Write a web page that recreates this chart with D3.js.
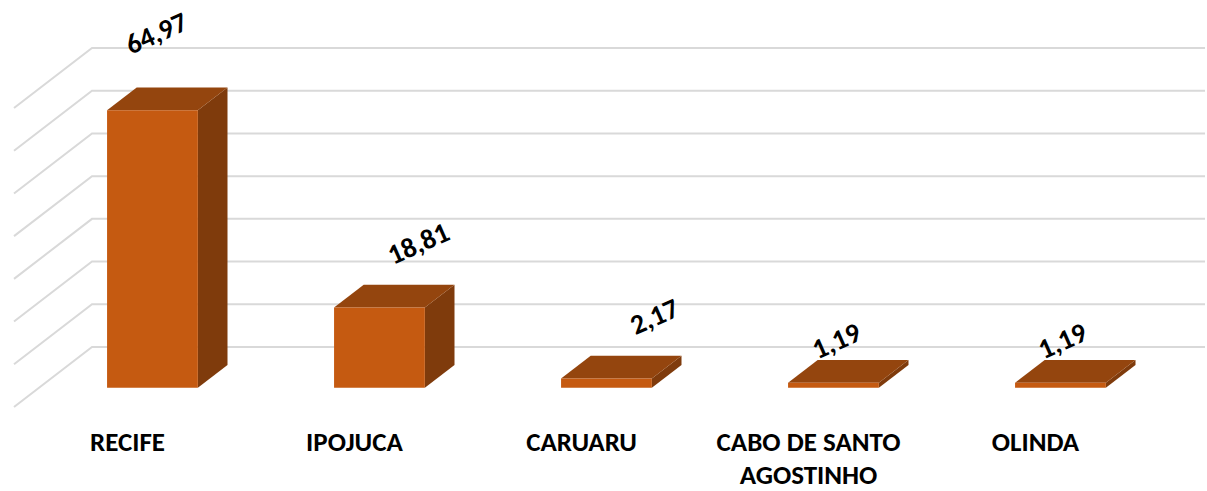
<!DOCTYPE html>
<html>
<head>
<meta charset="utf-8">
<script src="https://cdn.jsdelivr.net/npm/d3@7"></script>
<style>
  html, body { margin: 0; padding: 0; background: #fff; }
  svg { display: block; }
</style>
</head>
<body>
<script>
const width = 1207, height = 491;

// data
const cities = ["RECIFE", "IPOJUCA", "CARUARU", "CABO DE SANTO AGOSTINHO", "OLINDA"];
const cityLines = [["RECIFE"], ["IPOJUCA"], ["CARUARU"], ["CABO DE SANTO", "AGOSTINHO"], ["OLINDA"]];
const values = [64.97, 18.81, 2.17, 1.19, 1.19];
const valueLabels = ["64,97", "18,81", "2,17", "1,19", "1,19"];
const ticks = [0, 10, 20, 30, 40, 50, 60, 70];

// layout bits (Excel puts these labels in slightly odd spots)
const labelShift = [[-11, -66], [24, -53], [33, -51], [-12, -31], [-13, -31]];

const depthX = -78, depthY = 60;           // full floor depth offset
const zBack = 0.3, zFront = 0.68;          // bar depth within the floor
const proj = (x, y, z) => [x + depthX * z, y + depthY * z];

const x = d3.scaleBand()
  .domain(cities)
  .range([92, 1227])
  .paddingInner(0.6)
  .paddingOuter(0.3);

const y = d3.scaleLinear().domain([0, 70]).range([347, 48]);

const svg = d3.select("body").append("svg")
  .attr("width", width)
  .attr("height", height);

const font = "Carlito, Calibri, 'Liberation Sans Narrow', 'DejaVu Sans Condensed', sans-serif";

// gridlines: back wall + left wall
const grid = svg.append("g")
  .attr("fill", "none")
  .attr("stroke", "#d9d9d9")
  .attr("stroke-width", 2);

grid.selectAll("path")
  .data(ticks)
  .join("path")
  .attr("d", t => {
    const p = proj(92, y(t), 1);
    return `M${p[0]},${p[1]}L92,${y(t)}L1205,${y(t)}`;
  });

// bars
const bars = svg.append("g")
  .selectAll("g")
  .data(cities)
  .join("g");

const pt = p => p.join(",");

bars.append("polygon")  // side
  .attr("fill", "#7f3b0c")
  .attr("points", (d, i) => {
    const xr = x(d) + x.bandwidth(), yt = y(values[i]), y0 = y(0);
    return [proj(xr, yt, zFront), proj(xr, yt, zBack), proj(xr, y0, zBack), proj(xr, y0, zFront)].map(pt).join(" ");
  });

bars.append("polygon")  // top
  .attr("fill", "#94450e")
  .attr("points", (d, i) => {
    const xl = x(d), xr = xl + x.bandwidth(), yt = y(values[i]);
    return [proj(xl, yt, zFront), proj(xr, yt, zFront), proj(xr, yt, zBack), proj(xl, yt, zBack)].map(pt).join(" ");
  });

bars.append("polygon")  // front
  .attr("fill", "#c55a11")
  .attr("points", (d, i) => {
    const xl = x(d), xr = xl + x.bandwidth(), yt = y(values[i]), y0 = y(0);
    return [proj(xl, yt, zFront), proj(xr, yt, zFront), proj(xr, y0, zFront), proj(xl, y0, zFront)].map(pt).join(" ");
  });

// value labels
svg.append("g")
  .attr("font-family", font)
  .attr("font-weight", "bold")
  .attr("font-size", 28)
  .attr("fill", "#000")
  .selectAll("text")
  .data(cities)
  .join("text")
  .attr("text-anchor", "middle")
  .attr("dy", "0.35em")
  .attr("transform", (d, i) => {
    const c = proj(x(d) + x.bandwidth() / 2, y(values[i]), (zBack + zFront) / 2);
    return `translate(${c[0] + labelShift[i][0]},${c[1] + labelShift[i][1]}) rotate(-24)`;
  })
  .text((d, i) => valueLabels[i]);

// category labels at the front edge of the floor
svg.append("g")
  .attr("font-family", font)
  .attr("font-weight", "bold")
  .attr("font-size", 27)
  .attr("fill", "#000")
  .selectAll("text")
  .data(cities)
  .join("text")
  .attr("text-anchor", "middle")
  .attr("x", d => proj(x(d) + x.bandwidth() / 2, 0, 1)[0])
  .attr("y", 451)
  .selectAll("tspan")
  .data((d, i) => cityLines[i])
  .join("tspan")
  .attr("x", function () { return this.parentNode.getAttribute("x"); })
  .attr("dy", (l, j) => j ? 33 : 0)
  .text(l => l);
</script>
</body>
</html>
